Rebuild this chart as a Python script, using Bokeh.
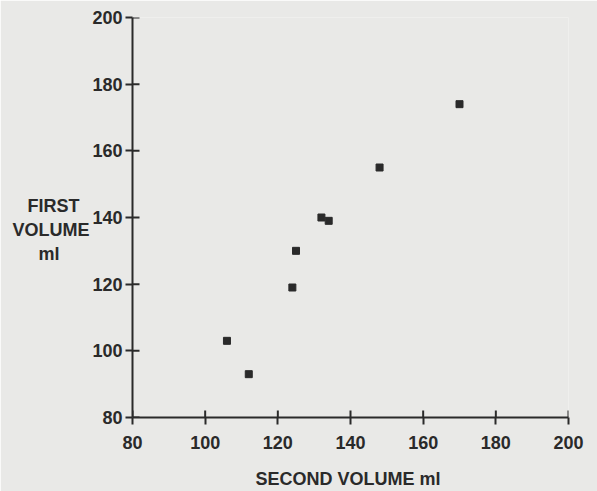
from bokeh.plotting import figure
from bokeh.models import FixedTicker, ColumnDataSource, Range1d
from bokeh.embed import file_html
from bokeh.resources import INLINE

# Data
second_volume = [106, 112, 124, 125, 132, 134, 148, 170]
first_volume = [103, 93, 119, 130, 140, 139, 155, 174]
tick_values = [80, 100, 120, 140, 160, 180, 200]
x_title = "SECOND VOLUME  ml"
NB = "\u00a0"
y_title = "\nFIRST" + NB * 2 + "\nVOLUME\nml" + NB * 6

BG = "#e9e9e7"
INK = "#2a2a2a"
FONT = "Liberation Sans"

X0, X1, Y0, Y1 = 80, 200, 80, 200
p = figure(width=597, height=491, output_backend="svg", toolbar_location=None,
           x_range=Range1d(X0, X1), y_range=Range1d(Y0, Y1),
           min_border_left=132, min_border_right=29, min_border_top=17,
           min_border_bottom=69)
p.background_fill_color = BG
p.border_fill_color = BG
p.outline_line_color = None
p.grid.visible = False

# inward halves of the crossing tick marks (about 7 px), placed at the tick values
frame_w, frame_h = 597 - 132 - 29, 491 - 17 - 69
dx = 7 * (X1 - X0) / frame_w
dy = 7 * (Y1 - Y0) / frame_h
n = len(tick_values)
p.segment(x0=tick_values, y0=[Y0] * n, x1=tick_values, y1=[Y0 + dy] * n,
          line_color=INK, line_width=2)
p.segment(x0=[X0] * n, y0=tick_values, x1=[X0 + dx] * n, y1=tick_values,
          line_color=INK, line_width=2)

src = ColumnDataSource(dict(x=second_volume, y=first_volume))
p.scatter("x", "y", source=src, marker="square", size=7,
          fill_color=INK, line_color=INK)

for ax in (p.xaxis[0], p.yaxis[0]):
    ax.ticker = FixedTicker(ticks=tick_values)
    ax.minor_tick_line_color = None
    ax.major_tick_in = 0
    ax.major_tick_out = 7
    ax.axis_line_width = 2
    ax.axis_line_color = INK
    ax.major_tick_line_width = 2
    ax.major_tick_line_color = INK
    ax.major_label_text_font = FONT
    ax.major_label_text_font_style = "bold"
    ax.major_label_text_font_size = "18px"
    ax.major_label_text_color = INK
    ax.axis_label_text_font = FONT
    ax.axis_label_text_font_style = "bold"
    ax.axis_label_text_font_size = "18px"
    ax.axis_label_text_color = INK

p.xaxis[0].major_label_standoff = 11
p.yaxis[0].major_label_standoff = 3
p.xaxis[0].axis_label = x_title
p.xaxis[0].axis_label_standoff = 17
p.yaxis[0].axis_label = y_title
p.yaxis[0].axis_label_orientation = "horizontal"
p.yaxis[0].axis_label_standoff = 0
p.yaxis[0].axis_label_text_line_height = 1.2

open("out.html", "w").write(file_html(p, INLINE))
